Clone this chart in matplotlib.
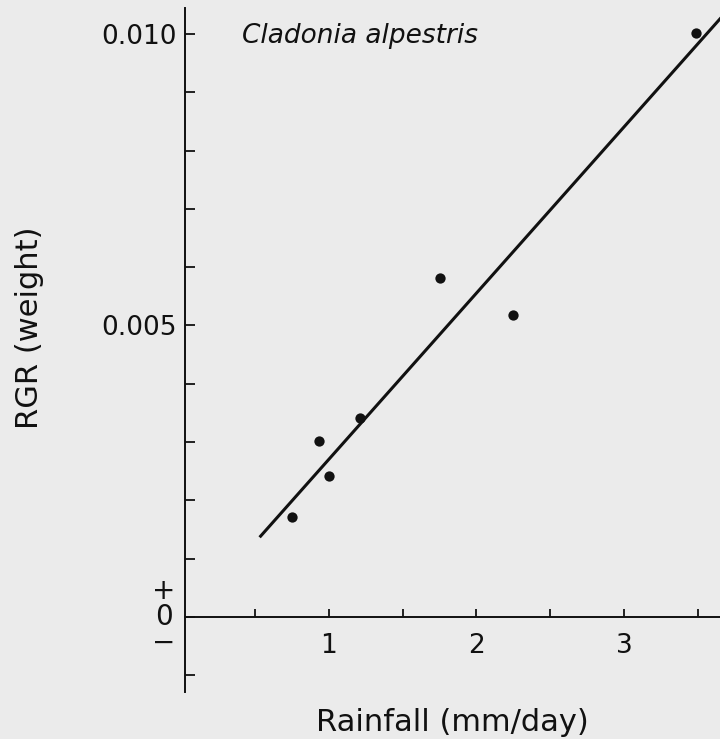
import matplotlib
matplotlib.use("Agg")
import matplotlib.pyplot as plt
import matplotlib.transforms as mtransforms
import numpy as np

# Data
rainfall = [0.75, 0.93, 1.0, 1.21, 1.75, 2.25, 3.49]
rgr = [0.00172, 0.00301, 0.00241, 0.00341, 0.00582, 0.00518, 0.01002]
fit_slope = 0.00285
fit_intercept = -0.000146
fit_range = [0.53, 3.8]

x_major = [1, 2, 3]
x_minor = [0.5, 1, 1.5, 2, 2.5, 3, 3.5]
y_ticks = [-0.001, 0, 0.001, 0.002, 0.003, 0.004, 0.005, 0.006, 0.007, 0.008, 0.009, 0.010]
y_labeled = {0.005: "0.005", 0.010: "0.010"}

BG = "#ebebeb"
INK = "#111111"

fig = plt.figure(figsize=(7.2, 7.39), dpi=100, facecolor=BG)
ax = fig.add_axes([0.2569, 0.0636, 0.7431, 0.9256], facecolor=BG)

ax.set_xlim(0.024, 3.651)
ax.set_ylim(-0.00129, 0.010446)

# fitted line
lx = np.array(fit_range)
ax.plot(lx, fit_slope * lx + fit_intercept, color=INK, lw=2.2, solid_capstyle="butt", zorder=3)
# points
ax.scatter(rainfall, rgr, s=55, color=INK, zorder=4, linewidths=0)

# spines
for s in ["top", "right"]:
    ax.spines[s].set_visible(False)
ax.spines["bottom"].set_position(("data", 0))
ax.spines["left"].set_linewidth(1.4)
ax.spines["bottom"].set_linewidth(1.4)
ax.spines["left"].set_color(INK)
ax.spines["bottom"].set_color(INK)

# x ticks
ax.set_xticks(x_minor)
ax.set_xticklabels([str(v) if v in x_major else "" for v in x_minor])
ax.tick_params(axis="x", direction="in", length=6, width=1.3, colors=INK,
               labelsize=19, pad=12, labelcolor=INK)

# y ticks
ax.set_yticks(y_ticks)
ax.set_yticklabels([y_labeled.get(round(v, 3), "") for v in y_ticks])
ax.tick_params(axis="y", direction="in", length=7, width=1.3, colors=INK,
               labelsize=19, pad=6, labelcolor=INK)

# "+ 0 -" at zero
trans = mtransforms.blended_transform_factory(ax.transAxes, ax.transData)
for txt, dy in [("+", 26), ("0", 0), ("\u2212", -26)]:
    ax.annotate(txt, xy=(0, 0), xycoords=trans, xytext=(-21, dy),
                textcoords="offset pixels", ha="center", va="center",
                fontsize=20, color=INK)

# labels
ax.set_xlabel("Rainfall (mm/day)", fontsize=22, color=INK)
ax.xaxis.set_label_coords(0.5, -0.045)
ax.xaxis.label.set_verticalalignment("center")
ax.set_ylabel("RGR (weight)", fontsize=22, color=INK)
ax.yaxis.set_label_coords(-0.29, 0.532)
ax.yaxis.label.set_verticalalignment("center")

ax.text(0.107, 0.959, "Cladonia alpestris", transform=ax.transAxes,
        fontsize=19, style="italic", color=INK, ha="left", va="center")

fig.savefig("out.png", dpi=100, facecolor=BG)
